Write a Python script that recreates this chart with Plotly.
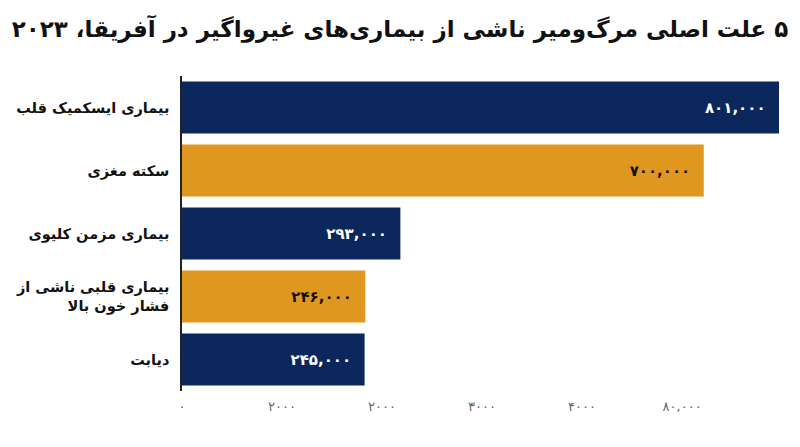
import plotly.graph_objects as go

title_text = "\u200f۵ علت اصلی مرگ‌ومیر ناشی از بیماری‌های غیرواگیر در آفریقا، ۲۰۲۳"

categories = [
    "بیماری ایسکمیک قلب",
    "سکته مغزی",
    "بیماری مزمن کلیوی",
    "بیماری قلبی ناشی از<br>فشار خون بالا",
    "دیابت",
]
values = [801000, 700000, 293000, 246000, 245000]
value_labels = ["۸۰۱,۰۰۰", "۷۰۰,۰۰۰", "۲۹۳,۰۰۰", "۲۴۶,۰۰۰", "۲۴۵,۰۰۰"]
bar_colors = ["#0b275c", "#e0971f", "#0b275c", "#e0971f", "#0b275c"]
text_colors = ["#ffffff", "#111111", "#ffffff", "#111111", "#ffffff"]

tick_labels = ["۰", "۲۰۰۰", "۲۰۰۰", "۳۰۰۰", "۴۰۰۰", "۸۰,۰۰۰"]
tick_step = 134200
tick_vals = [i * tick_step for i in range(len(tick_labels))]

FONT = "DejaVu Sans"

fig = go.Figure(
    go.Bar(
        x=values,
        y=categories,
        orientation="h",
        marker=dict(color=bar_colors, line=dict(width=0)),
        text=[t + "\u00a0\u00a0" for t in value_labels],
        textposition="inside",
        insidetextanchor="end",
        textangle=0,
        textfont=dict(family=FONT, size=15, color=text_colors, weight="bold"),
        hoverinfo="skip",
    )
)

fig.update_layout(
    width=800,
    height=447,
    margin=dict(l=182, r=21, t=76, b=56, autoexpand=False),
    paper_bgcolor="white",
    plot_bgcolor="white",
    showlegend=False,
    bargap=0.175,
    title=dict(
        text=title_text,
        x=0.5,
        xanchor="center",
        xref="container",
        y=0.935,
        yanchor="middle",
        font=dict(family=FONT, size=23, color="#111111", weight="bold"),
    ),
    font=dict(family=FONT),
)

fig.update_xaxes(
    range=[0, 801000],
    tickmode="array",
    tickvals=tick_vals,
    ticktext=tick_labels,
    showgrid=False,
    zeroline=False,
    showline=False,
    ticks="",
    ticklabelstandoff=6,
    tickfont=dict(family=FONT, size=13, color="#666666"),
    fixedrange=True,
)

fig.update_yaxes(
    categoryorder="array",
    categoryarray=categories[::-1],
    showgrid=False,
    zeroline=False,
    showline=True,
    linecolor="#222222",
    linewidth=1.5,
    ticks="",
    ticklabelstandoff=8,
    tickfont=dict(family=FONT, size=14.5, color="#111111", weight="bold"),
    fixedrange=True,
)

fig.write_html(
    "out.html",
    config={"displayModeBar": False},
    post_script="document.body.style.margin='0';",
)
